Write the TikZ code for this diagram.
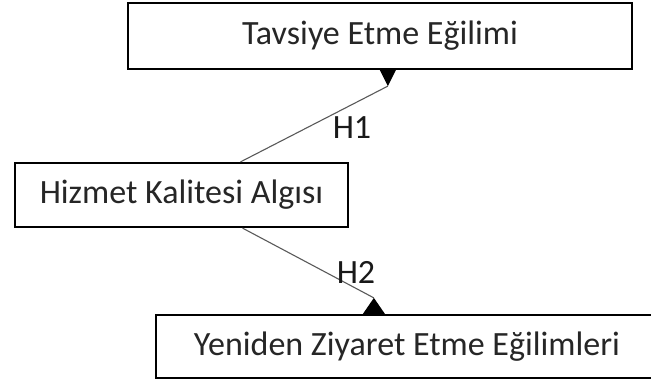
\documentclass[tikz,border=0pt]{standalone}
\usepackage{fontspec}
\setmainfont{Carlito}
\usetikzlibrary{calc}
\begin{document}
\begin{tikzpicture}[x=1pt,y=-1pt,
  box/.style={draw=black,line width=2.2pt,fill=white,inner sep=0pt,
    font=\fontsize{34}{38}\selectfont,text=black!85},
  conn/.style={draw=black!65,line width=1.1pt},
  head/.style={fill=black,draw=none},
  lbl/.style={font=\fontsize{34}{38}\selectfont,text=black!90,inner sep=0pt}]
\useasboundingbox (0,0) rectangle (651,385);
\node[box,minimum width=504pt,minimum height=66pt] (top) at (380,36) {Tavsiye Etme Eğilimi};
\node[box,minimum width=333pt,minimum height=64pt] (mid) at (181.5,195) {Hizmet Kalitesi Algısı};
\node[box,minimum width=502pt,minimum height=63pt] (bot) at (407,346.5) {Yeniden Ziyaret Etme Eğilimleri};
% connector end points
\coordinate (s1) at ($(mid.north west)!0.676!(mid.north east)$);
\coordinate (s2) at ($(mid.south west)!0.682!(mid.south east)$);
\coordinate (a1) at ($(top.south west)+(261,16)$);
\coordinate (a2) at ($(bot.north west)+(219,-16)$);
\draw[conn] (s1) -- (a1);
\draw[conn] (s2) -- (a2);
\fill[head] (a1) -- ($(top.south west)+(253,0)$) -- ($(top.south west)+(269,0)$) -- cycle;
\fill[head] (a2) -- ($(bot.north west)+(208,0)$) -- ($(bot.north west)+(230,0)$) -- cycle;
\node[lbl] (h1) at (352,128) {H1};
\node[lbl] (h2) at (356,272) {H2};
\end{tikzpicture}
\end{document}
